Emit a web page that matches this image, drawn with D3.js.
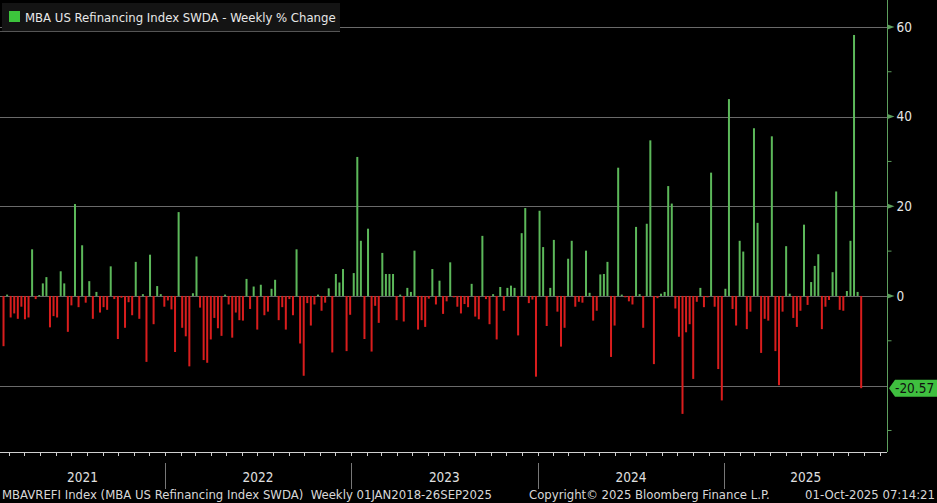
<!DOCTYPE html>
<html>
<head>
<meta charset="utf-8">
<script src="https://cdn.jsdelivr.net/npm/d3@7"></script>
<style>
  body { margin: 0; background: #000; }
  svg { display: block; font-family: "DejaVu Sans Condensed", "Liberation Sans Narrow", "Liberation Sans", sans-serif; }
  .pre { white-space: pre; }
</style>
</head>
<body>
<svg id="chart" width="937" height="503"></svg>
<script>
// weekly % change, one value per week, last one is week of 26 Sep 2025
var lastWeek = new Date(2025, 8, 26);
var changes = [
  -11.2, 0.3, -4.8, -3.9, -5.1, -2.4, -5.2, -4.8, 10.4, -0.7, 0.2, 2.8, 4.2, -7.0,
  -4.5, -4.8, 5.5, 2.8, -8.0, -2.1, 20.5, -2.5, 11.3, -1.5, 3.3, -5.1, 0.9, -3.7,
  -2.5, -3.1, 6.6, -0.7, -9.6, -0.4, -7.1, -1.4, -4.3, 7.6, -5.1, 0.4, -14.7, 9.2,
  -6.3, 2.2, 0.4, -2.4, -1.0, -3.0, -12.5, 18.7, -7.1, -9.0, -15.7, 0.6,
  8.8, -2.6, -14.3, -14.9, -9.7, -4.9, -7.2, -8.9, 0.3, -1.9, -9.3, -3.7, -5.4, -5.5,
  3.8, -2.9, 2.1, -7.5, 2.5, -4.3, -3.5, 1.6, 3.6, -5.4, -2.5, -7.5, -0.7,
  -4.3, 10.4, -10.6, -17.8, -1.6, -6.6, -1.9, 0.3, -3.3, -1.5, 1.7, -12.6, 4.9, 3.0,
  6.0, -12.3, -4.2, 5.1, 31.0, 12.3, -9.6, 15.0, -12.4, -2.2, -6.0, 9.6,
  4.9, 4.9, 4.9, -5.4, 0.3, -5.7, 1.8, 0.9, 10.1, -7.5, -5.4, -6.9, -0.6, 6.0,
  -1.9, 3.4, -4.0, -1.2, 7.5, -0.3, -2.4, -3.9, -1.8, -2.5, 2.7, -4.6, -5.2,
  13.4, -0.7, -6.3, 0.4, -9.7, 2.0, -3.3, 1.8, 2.3, 1.8, -8.8, 14.0, 19.6, -1.6,
  -0.8, -18.0, 19.0, 10.9, -6.7, 1.8, 12.5, -3.5, -11.3, -7.1, 8.3, 12.3,
  -2.4, -1.3, -1.5, 10.1, 0.7, -5.5, -3.3, 4.8, 4.9, 7.6, -13.6, -6.6, 28.6, 0.3,
  -0.3, -1.2, -1.9, 15.4, 0.4, -7.1, 16.1, 34.7, -15.2, -0.5, 0.5, 0.9, 24.5,
  20.6, -2.8, -9.1, -26.3, -8.1, -6.3, -18.5, -1.3, 1.8, -2.5, -0.3, 27.5, -2.4,
  -16.3, -23.3, 1.6, 43.9, -2.9, -6.6, 12.3, 9.9, -7.4, -3.5, 37.4, 16.3, -12.7,
  -5.1, -5.5, 35.6, -12.3, -19.9, -3.5, 11.1, 0.5, -4.9, -6.9, -3.3, 15.9, -2.0,
  3.1, 6.7, 9.3, -7.4, -2.4, -0.9, 5.3, 23.3, -3.1, -3.3, 1.1, 12.3, 58.2, 0.9, -20.57
];
var yMajor = [60, 40, 20, 0, -20];
var yMinor = [50, 30, 10, -10, -30];
var years = [2021, 2022, 2023, 2024, 2025];
var lastLabel = "-20.57";
var legendText = "MBA US Refinancing Index SWDA - Weekly % Change";
var footLeft = "MBAVREFI Index (MBA US Refinancing Index SWDA)  Weekly 01JAN2018-26SEP2025";
var footMid = "Copyright\u00a9 2025 Bloomberg Finance L.P.";
var footRight = "01-Oct-2025 07:14:21";

var W = 887, H = 452;
var svg = d3.select("#chart");
svg.append("rect").attr("width", 937).attr("height", 503).attr("fill", "#000");

var n = changes.length;
var data = changes.map(function(v, i) {
  return { date: d3.timeDay.offset(lastWeek, -7 * (n - 1 - i)), value: v };
});

var x = d3.scaleTime()
  .domain([new Date(2021, 0, 1), new Date(2026, 0, 1)])
  .range([-21.5, 910.7]);
var y = d3.scaleLinear().domain([-34.8, 66]).range([H, 0]);

// grid
svg.append("g").selectAll("line").data(yMajor).join("line")
  .attr("x1", 0).attr("x2", W)
  .attr("y1", function(d) { return Math.round(y(d)) + 0.5; })
  .attr("y2", function(d) { return Math.round(y(d)) + 0.5; })
  .attr("stroke", "#6a6a6a").attr("stroke-width", 1);

// bars
svg.append("g").selectAll("rect").data(data).join("rect")
  .attr("x", function(d) { return x(d.date) - 1; })
  .attr("width", 2)
  .attr("y", function(d) { return y(Math.max(0, d.value)); })
  .attr("height", function(d) { return Math.abs(y(d.value) - y(0)); })
  .attr("fill", function(d) { return d.value >= 0 ? "#5cb85a" : "#d91d1d"; });

// right axis
var axisR = svg.append("g").attr("transform", "translate(" + (W + 0.5) + ",0)");
axisR.append("line").attr("y1", 0).attr("y2", H).attr("stroke", "#5d9e5d");
axisR.selectAll(".minor").data(yMinor).join("line")
  .attr("x1", 0).attr("x2", 4)
  .attr("y1", function(d) { return y(d); }).attr("y2", function(d) { return y(d); })
  .attr("stroke", "#5d9e5d");
axisR.selectAll(".tri").data(yMajor.slice(0, 4)).join("path")
  .attr("d", function(d) { var t = y(d); return "M0," + (t - 2.5) + "L7," + t + "L0," + (t + 2.5) + "Z"; })
  .attr("fill", "#5d9e5d");
axisR.selectAll("text").data(yMajor.slice(0, 4)).join("text")
  .attr("x", 9).attr("y", function(d) { return y(d); })
  .attr("dy", "0.35em").attr("fill", "#e6e6e6").attr("font-size", 13.5)
  .text(function(d) { return d; });

// last value tag
var lv = changes[n - 1], ly = y(lv);
svg.append("path")
  .attr("d", "M889," + ly + "L895," + (ly - 8.5) + "L937," + (ly - 8.5) + "L937," + (ly + 8.5) + "L895," + (ly + 8.5) + "Z")
  .attr("fill", "#3fbf3f");
svg.append("text").attr("x", 895).attr("y", ly).attr("dy", "0.36em")
  .attr("fill", "#111").attr("font-size", 13.5).text(lastLabel);

// bottom axis
var axisB = svg.append("g");
axisB.append("line").attr("x1", 0).attr("x2", W).attr("y1", H + 0.5).attr("y2", H + 0.5).attr("stroke", "#cfcfcf");
var months = d3.timeMonth.range(x.invert(0), x.invert(W));
axisB.selectAll(".tk").data(months).join("line")
  .attr("x1", function(d) { return Math.round(x(d)) + 0.5; })
  .attr("x2", function(d) { return Math.round(x(d)) + 0.5; })
  .attr("y1", H).attr("y2", H + 4).attr("stroke", "#cfcfcf");

years.forEach(function(yr, i) {
  var a = Math.max(0, x(new Date(yr, 0, 1))), b = Math.min(W, x(new Date(yr + 1, 0, 1)));
  axisB.append("text").attr("x", (a + b) / 2).attr("y", 482)
    .attr("text-anchor", "middle").attr("fill", "#e0e0e0").attr("font-size", 13.5).text(yr);
  if (i > 0) {
    axisB.append("line").attr("x1", Math.round(a) + 0.5).attr("x2", Math.round(a) + 0.5)
      .attr("y1", 463).attr("y2", 489).attr("stroke", "#777");
  }
});

// legend
svg.append("rect").attr("x", 2).attr("y", 3).attr("width", 338).attr("height", 28).attr("fill", "#141414");
svg.append("line").attr("x1", 0).attr("x2", 340).attr("y1", 31.5).attr("y2", 31.5).attr("stroke", "#555");
svg.append("rect").attr("x", 9).attr("y", 11).attr("width", 11).attr("height", 11).attr("fill", "#3cc43c");
svg.append("text").attr("x", 25).attr("y", 17).attr("dy", "0.35em")
  .attr("fill", "#e8e8e8").attr("font-size", 13).text(legendText);

// footer
svg.append("text").attr("class", "pre").attr("x", 2).attr("y", 499).attr("fill", "#d8d8d8").attr("font-size", 13).text(footLeft);
svg.append("text").attr("x", 529).attr("y", 499).attr("fill", "#d8d8d8").attr("font-size", 13).text(footMid);
svg.append("text").attr("x", 935).attr("y", 499).attr("text-anchor", "end").attr("fill", "#d8d8d8").attr("font-size", 13).text(footRight);
</script>
</body>
</html>
